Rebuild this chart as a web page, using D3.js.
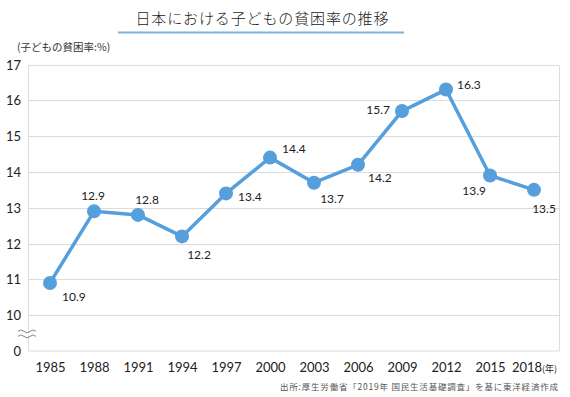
<!DOCTYPE html>
<html><head><meta charset="utf-8">
<script src="https://cdn.jsdelivr.net/npm/d3@7"></script>
<style>
html,body{margin:0;padding:0;background:#fff;}
svg{display:block;}
</style></head>
<body>
<svg id="chart" width="570" height="397"></svg>
<script>
const years = ["1985","1988","1991","1994","1997","2000","2003","2006","2009","2012","2015","2018"];
const rates = [10.9, 12.9, 12.8, 12.2, 13.4, 14.4, 13.7, 14.2, 15.7, 16.3, 13.9, 13.5];
const yTicks = [9, 10, 11, 12, 13, 14, 15, 16, 17];
const yTickLabels = ["0", "10", "11", "12", "13", "14", "15", "16", "17"];
// label offsets [dx, dy, anchor]
const labelPos = [[12,14,"start"],[-1,-16,"middle"],[9,-15,"middle"],[17,18,"middle"],[12,3,"start"],[12,-9,"start"],[18,16,"middle"],[10,13,"start"],[-12,-1,"end"],[11,-5,"start"],[-4,15,"end"],[10,19,"middle"]];

const title = "日本における子どもの貧困率の推移";
const unitLabel = "(子どもの貧困率:%)";
const source = "出所:厚生労働省「2019年 国民生活基礎調査」を基に東洋経済作成";

const svg = d3.select("#chart");
const jp = "'Noto Sans CJK JP', sans-serif";
const num = "Lato, 'Noto Sans', sans-serif";
const blue = "#559fdc";

const frame = {left: 28, right: 559, top: 64.5, bottom: 351};
const x = d3.scalePoint().domain(years).range([50, 534]);
const y = d3.scaleLinear().domain([9, 17]).range([frame.bottom, frame.top]);

// Title
svg.append("text").attr("x", 262).attr("y", 24).attr("text-anchor", "middle")
  .attr("font-family", jp).attr("font-size", 15).attr("font-weight", 300)
  .attr("fill", "#222").attr("textLength", 253).attr("lengthAdjust", "spacing").text(title);
svg.append("line").attr("x1", 118).attr("x2", 404).attr("y1", 32.5).attr("y2", 32.5)
  .attr("stroke", "#7fb2d9").attr("stroke-width", 2);

svg.append("text").attr("x", 17).attr("y", 51).attr("font-family", jp).attr("font-size", 10.5)
  .attr("fill", "#333").text(unitLabel);

// grid
const grid = svg.append("g");
grid.selectAll("line").data(yTicks.filter(t => t > 9)).join("line")
  .attr("x1", frame.left).attr("x2", frame.right)
  .attr("y1", d => Math.round(y(d)) + 0.5).attr("y2", d => Math.round(y(d)) + 0.5)
  .attr("stroke", "#dcdcdc").attr("stroke-width", 1);
// frame
svg.append("path")
  .attr("d", `M${frame.left+0.5},${frame.bottom} V${Math.round(frame.top)+0.5} H${frame.right+0.5} V${frame.bottom} H${frame.left+0.5}`)
  .attr("fill", "none").attr("stroke", "#dcdcdc").attr("stroke-width", 1);

// y axis labels
const yAxis = d3.axisLeft(y).tickValues(yTicks).tickSize(0).tickPadding(0)
  .tickFormat((d, i) => yTickLabels[i]);
const gy = svg.append("g").attr("transform", "translate(21,0)").call(yAxis);
gy.select(".domain").remove();
gy.selectAll("text").attr("font-family", num).attr("font-size", 13).attr("fill", "#222").attr("dy", "0.35em");

// break symbol
const by = (y(9.5) + y(9.4)) / 2 - 1;
const wave = (yy) => `M18,${yy} q3,-3 6,0 t6,0 t6,0`;
svg.append("path").attr("d", `M18,${by-2.5} q3,-3 6,0 t6,0 t6,0 V${by+2.5} q-3,3 -6,0 t-6,0 t-6,0 Z`)
  .attr("fill", "#fff").attr("stroke", "none");
svg.append("path").attr("d", wave(by - 2.5)).attr("fill", "none").attr("stroke", "#777").attr("stroke-width", 0.9);
svg.append("path").attr("d", wave(by + 2.5)).attr("fill", "none").attr("stroke", "#777").attr("stroke-width", 0.9);

// x axis labels
const xAxis = d3.axisBottom(x).tickSize(0).tickPadding(0);
const gx = svg.append("g").attr("transform", "translate(0,372)").call(xAxis);
gx.select(".domain").remove();
gx.selectAll("text").attr("font-family", num).attr("font-size", 13).attr("fill", "#222").attr("dy", 0)
  .each(function(d) {
    if (d === years[years.length - 1]) {
      const t = d3.select(this).text(null);
      t.append("tspan").text(d);
      t.append("tspan").attr("font-family", jp).attr("font-size", 9).text("(年)");
    }
  });

// line
const data = years.map((d, i) => ({year: d, v: rates[i], lp: labelPos[i]}));
svg.append("path").datum(data)
  .attr("d", d3.line().x(d => x(d.year)).y(d => y(d.v)))
  .attr("fill", "none").attr("stroke", blue).attr("stroke-width", 3.5).attr("stroke-linejoin", "round");
svg.append("g").selectAll("circle").data(data).join("circle")
  .attr("cx", d => x(d.year)).attr("cy", d => y(d.v)).attr("r", 7).attr("fill", blue);

svg.append("g").selectAll("text").data(data).join("text")
  .attr("x", d => x(d.year) + d.lp[0]).attr("y", d => y(d.v) + d.lp[1])
  .attr("text-anchor", d => d.lp[2]).attr("dy", "0.35em")
  .attr("font-family", num).attr("font-size", 12).attr("fill", "#222")
  .text(d => d.v.toFixed(1));

// source
svg.append("text").attr("x", 558).attr("y", 390).attr("text-anchor", "end")
  .attr("font-family", jp).attr("font-size", 8.5).attr("fill", "#555")
  .attr("textLength", 278).attr("lengthAdjust", "spacing").text(source);
</script>
</body></html>
